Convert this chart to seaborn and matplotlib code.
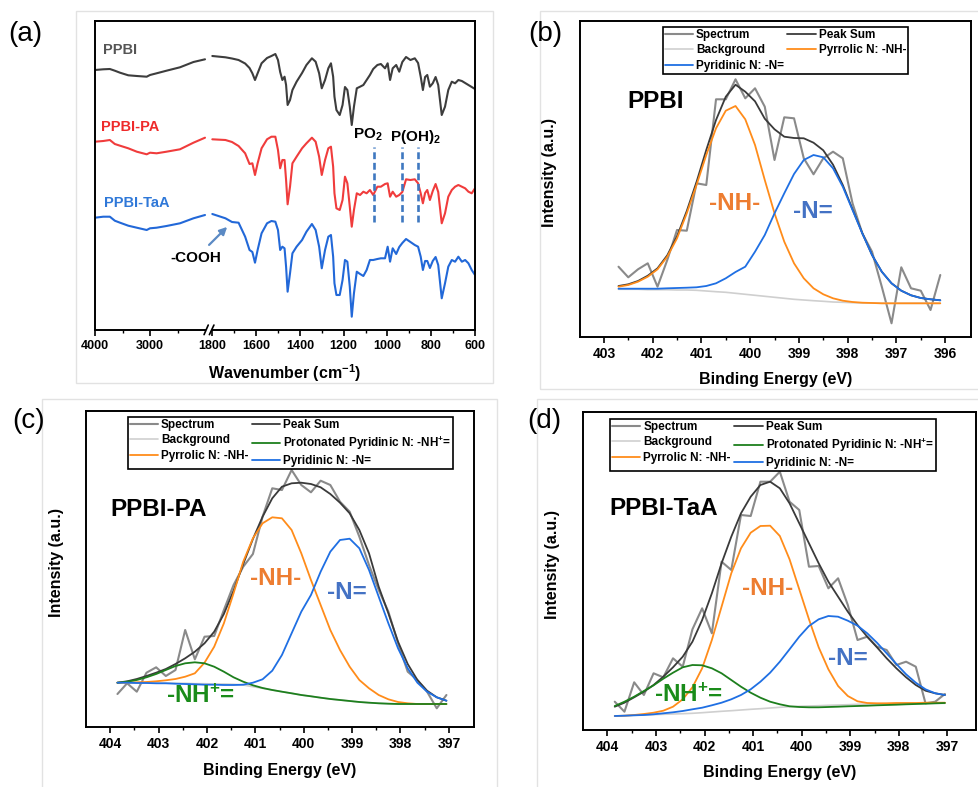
import numpy as np
import matplotlib
matplotlib.use("Agg")
import matplotlib.pyplot as plt
import seaborn as sns
from matplotlib.patches import Rectangle

sns.set_theme(style="white")
plt.rcParams["font.family"] = ["Liberation Sans", "DejaVu Sans"]
plt.rcParams.update({
    "mathtext.fontset": "custom",
    "mathtext.rm": "Liberation Sans:bold",
    "mathtext.bf": "Liberation Sans:bold",
    "mathtext.it": "Liberation Sans:bold:italic",
    "mathtext.sf": "Liberation Sans:bold",
    "mathtext.default": "regular",
    "axes.edgecolor": "black",
    "xtick.color": "black",
    "text.color": "black",
    "axes.labelcolor": "black",
})

# ---------------- (a) FTIR data ----------------
wn_left = [4000, 3850, 3730, 3640, 3545, 3395, 3240, 3060, 3000, 2880, 2700, 2455, 2210, 2000]
ppbi_left = [260.0, 260.7, 261.0, 259.3, 257.3, 254.7, 254.0, 253.3, 255.0, 256.7, 259.3, 262.7, 268.0, 270.7]
pa_left = [188.3, 189.0, 190.0, 186.0, 184.3, 181.7, 178.3, 175.7, 177.3, 176.7, 178.3, 180.7, 187.3, 192.3]
taa_left = [112.3, 113.3, 113.3, 109.3, 107.3, 104.3, 102.3, 100.0, 101.7, 102.3, 104.0, 106.7, 111.7, 115.0]

wn_right = [1800, 1740, 1710, 1680, 1650, 1630, 1617, 1605, 1593, 1575,
            1550, 1530, 1512, 1500, 1490, 1480, 1470, 1463, 1456, 1445,
            1434, 1415, 1390, 1370, 1345, 1328, 1312, 1300, 1285, 1270,
            1258, 1248, 1242, 1233, 1218, 1205, 1194, 1183, 1172, 1163,
            1153, 1140, 1125, 1110, 1095, 1080, 1065, 1046, 1030, 1011,
            999, 988, 976, 960, 946, 932, 915, 895, 875, 860,
            848, 838, 828, 818, 806, 793, 780, 768, 752, 737,
            722, 706, 691, 676, 660, 645, 630, 615, 600]
ppbi_right = [274.0, 272.7, 271.5, 270.0, 266.5, 262.0, 256.7, 250.0, 256.7, 266.7,
              272.0, 274.0, 276.0, 270.0, 258.0, 250.0, 253.3, 245.0, 225.0, 230.0,
              240.0, 248.3, 257.0, 265.0, 271.7, 268.3, 256.7, 241.7, 250.0, 261.7,
              266.7, 253.3, 233.3, 220.0, 215.0, 225.0, 243.0, 240.0, 223.3, 205.0,
              223.3, 241.7, 243.3, 245.0, 250.0, 255.0, 261.0, 265.0, 266.0, 261.7,
              266.7, 250.0, 261.7, 265.0, 258.3, 268.0, 273.0, 270.0, 271.7, 267.0,
              253.3, 240.0, 253.0, 255.0, 243.3, 246.7, 253.0, 245.0, 215.0, 223.3,
              240.0, 248.3, 246.7, 250.0, 249.0, 247.0, 245.0, 243.0, 241.0]
pa_right = [190.7, 190.0, 188.0, 184.0, 176.7, 166.0, 166.7, 155.0, 166.7, 181.7,
            190.7, 193.3, 193.3, 180.0, 161.7, 170.0, 170.0, 150.0, 125.7, 143.3,
            166.7, 173.3, 181.7, 186.7, 192.3, 188.3, 173.3, 155.0, 170.0, 181.7,
            183.3, 163.3, 136.7, 121.7, 120.0, 130.0, 153.3, 146.7, 123.3, 103.3,
            120.0, 136.7, 135.0, 138.3, 136.7, 140.0, 135.0, 143.3, 143.3, 146.0,
            146.7, 133.3, 138.3, 133.3, 135.0, 138.0, 150.7, 150.0, 150.7, 146.7,
            136.7, 126.7, 137.0, 140.0, 130.0, 139.0, 146.0, 138.0, 106.7, 116.7,
            133.3, 140.0, 143.3, 145.0, 143.3, 141.7, 138.3, 136.7, 141.7]
taa_right = [116.0, 111.7, 108.0, 107.3, 93.3, 80.0, 78.0, 67.3, 80.0, 96.7,
             106.7, 109.0, 108.3, 100.0, 80.0, 83.3, 81.7, 63.3, 38.3, 56.7,
             76.7, 83.3, 90.0, 98.3, 106.0, 100.0, 83.3, 61.7, 80.0, 93.3,
             95.0, 73.3, 46.7, 35.0, 35.0, 50.0, 70.0, 68.3, 43.3, 13.3,
             36.7, 58.3, 56.0, 54.0, 60.0, 70.0, 70.0, 71.0, 71.7, 71.7,
             83.3, 68.3, 81.7, 76.0, 83.0, 87.0, 91.0, 88.0, 85.0, 83.3,
             73.3, 60.0, 69.0, 69.0, 62.0, 69.0, 73.0, 65.0, 31.7, 46.7,
             63.3, 70.0, 68.3, 73.3, 68.3, 70.0, 66.7, 60.0, 55.0]
p_bands = [1061, 932, 862]
a_ticks = [4000, 3000, 1800, 1600, 1400, 1200, 1000, 800, 600]
a_minor = [3500, 2500, 1700, 1500, 1300, 1100, 900, 700]

# ---------------- XPS data ----------------
be_b = [402.7, 402.5, 402.3, 402.1, 401.9, 401.7, 401.5, 401.3, 401.1, 400.9,
        400.7, 400.5, 400.3, 400.1, 399.9, 399.7, 399.5, 399.3, 399.1, 398.9,
        398.7, 398.5, 398.3, 398.1, 397.9, 397.7, 397.5, 397.3, 397.1, 396.9,
        396.7, 396.5, 396.3, 396.1]
spec_b = [70.3, 59.7, 67.7, 73.7, 50.3, 77.0, 107.0, 106.3, 153.7, 152.0,
          237.7, 237.7, 257.7, 238.7, 248.7, 230.3, 177.0, 219.7, 218.7, 178.7,
          162.7, 178.7, 185.3, 178.7, 133.7, 103.7, 85.3, 50.3, 13.7, 69.7,
          48.7, 46.3, 27.0, 62.0]
bg_b = [47.7, 47.7, 47.7, 47.3, 47.3, 47.3, 47.0, 47.0, 46.7, 46.0,
        45.3, 44.7, 43.7, 42.7, 41.7, 40.7, 39.7, 38.7, 37.7, 37.0,
        36.3, 35.7, 35.0, 34.7, 34.3, 34.0, 34.0, 33.7, 33.7, 33.7,
        33.7, 33.7, 33.7, 33.7]
nh_b = [50.3, 52.0, 55.3, 60.3, 67.7, 80.3, 98.7, 123.7, 152.0, 182.0,
        208.7, 226.3, 231.0, 217.7, 192.0, 157.0, 123.7, 95.3, 73.7, 58.7,
        48.7, 42.7, 38.7, 36.3, 35.0, 34.3, 34.0, 33.7, 33.7, 33.7,
        33.7, 33.7, 33.7, 33.7]
n_b = [48.3, 48.3, 48.3, 48.3, 48.3, 48.7, 49.0, 49.3, 49.7, 51.0,
       53.7, 58.7, 65.0, 70.3, 85.3, 102.0, 123.7, 143.7, 163.0, 177.0,
       182.0, 179.7, 168.7, 150.3, 127.0, 103.7, 82.0, 65.3, 53.7, 46.3,
       41.7, 39.0, 37.7, 36.7]
sum_b = [51.0, 52.7, 56.0, 61.3, 68.7, 81.7, 100.7, 126.0, 155.0, 187.0,
         217.0, 240.3, 252.3, 245.3, 235.7, 218.3, 207.7, 200.3, 199.0, 198.7,
         194.3, 186.7, 172.3, 152.0, 127.7, 104.0, 82.0, 65.3, 53.7, 46.3,
         41.7, 39.0, 37.7, 36.7]

be_c = [403.85, 403.65, 403.45, 403.25, 403.05, 402.85, 402.65, 402.45, 402.25, 402.05,
        401.85, 401.65, 401.45, 401.25, 401.05, 400.85, 400.65, 400.45, 400.25, 400.05,
        399.85, 399.65, 399.45, 399.25, 399.05, 398.85, 398.65, 398.45, 398.25, 398.05,
        397.85, 397.65, 397.45, 397.25, 397.05]
spec_c = [33.0, 43.7, 35.3, 54.3, 59.7, 51.0, 57.0, 97.0, 67.7, 90.3,
          91.0, 117.0, 142.0, 160.3, 173.0, 210.3, 238.7, 237.0, 257.0, 242.0,
          234.7, 246.3, 242.0, 225.3, 215.3, 190.3, 162.0, 137.0, 115.3, 83.7,
          55.3, 47.0, 35.3, 18.7, 32.0]
bg_c = [44.3, 44.3, 44.3, 44.0, 44.0, 44.0, 43.7, 43.7, 43.3, 43.3,
        43.0, 43.0, 42.7, 42.0, 40.3, 38.7, 37.0, 35.3, 33.7, 32.0,
        30.7, 29.3, 28.0, 27.0, 26.0, 25.0, 24.3, 23.7, 23.3, 23.0,
        23.0, 23.0, 23.0, 23.0, 23.0]
nhp_c = [44.3, 45.3, 47.0, 49.7, 53.0, 57.0, 61.0, 63.7, 64.7, 63.7,
         60.3, 55.3, 49.7, 45.3, 41.7, 39.0, 37.0, 35.3, 33.7, 32.0,
         30.7, 29.3, 28.0, 27.0, 26.0, 25.0, 24.3, 23.7, 23.3, 23.0,
         23.0, 23.0, 23.0, 23.0, 23.0]
nh_c = [44.3, 44.3, 44.7, 45.0, 45.7, 46.7, 48.0, 50.3, 53.7, 64.3,
        80.3, 103.7, 133.7, 165.3, 188.7, 203.7, 209.7, 208.7, 197.0, 173.7,
        147.0, 122.0, 97.0, 77.0, 60.3, 47.0, 38.7, 32.0, 27.7, 25.0,
        23.7, 23.0, 23.0, 23.0, 23.0]
n_c = [44.3, 44.3, 44.0, 44.0, 43.7, 43.7, 43.3, 43.0, 42.7, 42.3,
       42.3, 42.0, 42.0, 42.3, 44.3, 47.7, 56.3, 72.0, 93.7, 115.3,
       132.0, 155.3, 175.3, 187.0, 188.3, 178.7, 157.0, 130.3, 103.7, 78.7,
       58.7, 44.3, 35.3, 29.7, 26.3]
sum_c = [44.3, 45.7, 48.0, 51.0, 54.3, 58.0, 63.0, 68.7, 75.3, 83.7,
         95.3, 113.0, 136.3, 163.0, 188.0, 210.3, 228.7, 240.3, 243.7, 244.3,
         243.0, 239.7, 233.0, 224.3, 213.7, 197.0, 173.7, 140.3, 113.7, 85.3,
         63.0, 47.0, 36.3, 29.7, 26.3]

be_d = [403.85, 403.65, 403.45, 403.25, 403.05, 402.85, 402.65, 402.45, 402.25, 402.05,
        401.85, 401.65, 401.45, 401.25, 401.05, 400.85, 400.65, 400.45, 400.25, 400.05,
        399.85, 399.65, 399.45, 399.25, 399.05, 398.85, 398.65, 398.45, 398.25, 398.05,
        397.85, 397.65, 397.45, 397.25, 397.05]
spec_d = [28.3, 18.3, 47.7, 35.0, 56.7, 52.7, 71.7, 63.3, 100.7, 121.7,
          96.7, 168.3, 160.0, 215.0, 214.0, 248.3, 248.3, 258.3, 228.3, 220.0,
          163.3, 164.0, 141.7, 151.7, 125.0, 90.0, 93.3, 83.3, 80.0, 65.0,
          68.3, 63.3, 26.7, 28.3, 36.0]
bg_d = [14.0, 14.3, 14.7, 15.0, 15.3, 15.7, 16.0, 16.3, 16.7, 17.3,
        18.0, 18.7, 19.3, 20.0, 20.7, 21.3, 22.0, 22.7, 23.3, 23.7,
        24.0, 24.3, 24.7, 25.0, 25.3, 25.7, 26.0, 26.0, 26.3, 26.3,
        26.7, 26.7, 26.7, 26.7, 26.7]
nhp_d = [24.0, 28.3, 33.3, 39.0, 44.7, 51.3, 57.3, 62.7, 65.0, 64.7,
         61.7, 56.7, 50.0, 43.3, 37.3, 32.3, 28.3, 25.7, 23.7, 23.0,
         22.7, 22.7, 23.0, 23.3, 23.7, 24.0, 24.3, 24.7, 25.0, 25.3,
         25.7, 26.0, 26.3, 26.7, 27.0]
nh_d = [14.0, 14.3, 15.0, 16.0, 17.3, 19.3, 23.3, 30.7, 42.7, 61.7,
        90.0, 123.3, 156.7, 181.7, 197.3, 204.0, 204.3, 194.0, 170.7, 140.7,
        110.7, 82.7, 60.7, 44.0, 34.0, 28.7, 27.0, 26.7, 26.7, 27.0,
        27.0, 27.0, 27.3, 27.3, 27.3]
n_d = [14.0, 14.3, 14.7, 15.0, 15.7, 16.7, 17.7, 19.0, 20.7, 22.3,
       24.7, 27.3, 30.7, 35.0, 40.7, 48.3, 57.3, 68.3, 80.7, 93.3,
       104.0, 110.7, 114.0, 113.3, 109.3, 104.3, 96.7, 87.3, 76.7, 66.0,
       55.7, 47.3, 40.7, 36.7, 35.0]
sum_d = [23.3, 27.3, 32.7, 38.3, 45.0, 53.3, 62.7, 73.3, 88.3, 110.0,
         136.7, 166.7, 193.3, 216.7, 233.3, 245.0, 248.3, 241.7, 226.7, 206.7,
         186.7, 166.7, 148.3, 133.3, 118.3, 105.0, 93.3, 82.7, 71.7, 61.7,
         52.7, 45.0, 39.3, 36.7, 35.0]

C_SPEC, C_SUM, C_BG = "#8a8a8a", "#3a3a3a", "#cfcfcf"
C_NH, C_N, C_NHP = "#ff8c1a", "#1f6fe3", "#1d7f1d"
T_NH, T_N, T_NHP = "#ed7d31", "#4472c4", "#1a8c1a"

W, H = 979, 787
fig = plt.figure(figsize=(W / 100, H / 100), dpi=100)


def box(l, r, t, b):
    return [l / W, 1 - b / H, (r - l) / W, (b - t) / H]


# panel frames
for (l, r, t, b) in [(76, 493, 11, 383), (540, 990, 11, 389), (42, 497, 399, 795), (537, 990, 399, 795)]:
    fig.add_artist(Rectangle((l / W, 1 - b / H), (r - l) / W, (b - t) / H, transform=fig.transFigure,
                             fill=False, edgecolor="#e2e2e2", lw=1.0))


def line(ax, x, y, color, lw=1.3):
    sns.lineplot(x=x, y=y, ax=ax, color=color, linewidth=lw, estimator=None, sort=False, legend=False)
    return ax.lines[-1]


def frame(ax):
    for s in ax.spines.values():
        s.set_visible(True)
        s.set_color("black")
        s.set_linewidth(1.4)
    ax.set_yticks([])
    ax.set_ylabel("")


# ---------------- panel (a) ----------------
ax = fig.add_axes(box(95, 475, 21, 330))
for xs, ys, col in [(wn_left, ppbi_left, "#3d3d3d"), (wn_right, ppbi_right, "#3d3d3d"),
                    (wn_left, pa_left, "#f03c3c"), (wn_right, pa_right, "#f03c3c"),
                    (wn_left, taa_left, "#2268d8"), (wn_right, taa_right, "#2268d8")]:
    line(ax, xs, ys, col, lw=1.5)


def _fwd(w):
    w = np.asarray(w, dtype=float)
    return np.where(w >= 2000, -(4000 - w) * 0.055,
                    np.where(w >= 1800, -(110 + (2000 - w) * 0.0365),
                             -(117.3 + (1800 - w) * 0.2189)))


def _inv(u):
    d = -np.asarray(u, dtype=float)
    return np.where(d <= 110, 4000 - d / 0.055,
                    np.where(d <= 117.3, 2000 - (d - 110) / 0.0365,
                             1800 - (d - 117.3) / 0.2189))


ax.set_xscale("function", functions=(_fwd, _inv))
ax.set_xlim(4000, 600)
ax.set_ylim(0, 309)
frame(ax)
ax.set_xticks(a_ticks, labels=[str(t) for t in a_ticks], fontsize=9, fontweight="bold")
ax.set_xticks(a_minor, minor=True)
ax.tick_params(axis="x", which="major", direction="out", length=4, width=1.2, pad=3, bottom=True)
ax.tick_params(axis="x", which="minor", direction="out", length=2.5, width=1.0, bottom=True)
ax.vlines(p_bands, 108.3, 183.3, colors="#3f78c0", linestyles=(0, (2.6, 1.4)), linewidth=1.9)
ax.set_xlabel("Wavenumber (cm$^{-1}$)", fontsize=11.5, fontweight="bold")
ax.xaxis.set_label_coords(0.5, -0.139)
ax.xaxis.label.set_verticalalignment("center")
# axis break marks
ax.add_patch(Rectangle((0.292, -0.012), 0.014, 0.024, transform=ax.transAxes, facecolor="white",
                       edgecolor="none", clip_on=False, zorder=5))
ax.plot([0.287, 0.298], [-0.015, 0.016], transform=ax.transAxes, color="black", lw=1.2, clip_on=False, zorder=6)
ax.plot([0.301, 0.313], [-0.015, 0.016], transform=ax.transAxes, color="black", lw=1.2, clip_on=False, zorder=6)
ax.text(0.021, 0.906, "PPBI", transform=ax.transAxes, color="#555555", fontsize=10.5, fontweight="bold", va="center")
ax.text(0.016, 0.657, "PPBI-PA", transform=ax.transAxes, color="#ee2a2a", fontsize=10.5, fontweight="bold", va="center")
ax.text(0.024, 0.411, "PPBI-TaA", transform=ax.transAxes, color="#2f78d8", fontsize=10.5, fontweight="bold", va="center")
ax.text(0.266, 0.233, "-COOH", transform=ax.transAxes, fontsize=11, fontweight="bold", ha="center", va="center")
ax.annotate("", xy=(0.353, 0.340), xytext=(0.295, 0.269), xycoords="axes fraction",
            arrowprops=dict(arrowstyle="-|>", color="#5b8ac4", lw=1.6, mutation_scale=11))
ax.text(0.718, 0.631, "PO$_2$", transform=ax.transAxes, fontsize=11, fontweight="bold", ha="center", va="center")
ax.text(0.842, 0.625, "P(OH)$_2$", transform=ax.transAxes, fontsize=11, fontweight="bold", ha="center", va="center")
fig.text(8 / W, 1 - 34 / H, "(a)", fontsize=20, ha="left", va="center")


# ---------------- XPS panels ----------------
def xps(rect, xlim, ylim, majors, minors, be, spec, bg, summ, nh, n, nhp, leg_anchor, title, title_xy,
        nh_xy, n_xy, nhp_xy, xl_y, yl_x, label, label_xy):
    ax = fig.add_axes(box(*rect))
    l_spec = line(ax, be, spec, C_SPEC, lw=1.5)
    l_bg = line(ax, be, bg, C_BG, lw=1.2)
    l_sum = line(ax, be, summ, C_SUM, lw=1.3)
    l_nh = line(ax, be, nh, C_NH, lw=1.3)
    l_nhp = line(ax, be, nhp, C_NHP, lw=1.3) if nhp is not None else None
    l_n = line(ax, be, n, C_N, lw=1.3)
    ax.set_xlim(*xlim)
    ax.set_ylim(*ylim)
    frame(ax)
    ax.set_xticks(majors, labels=[str(m) for m in majors], fontsize=10, fontweight="bold")
    ax.set_xticks(minors, minor=True)
    ax.tick_params(axis="x", which="major", direction="out", length=4, width=1.2, pad=3, bottom=True)
    ax.tick_params(axis="x", which="minor", direction="out", length=2.5, width=1.0, bottom=True)
    ax.set_xlabel("Binding Energy (eV)", fontsize=11.5, fontweight="bold")
    ax.xaxis.set_label_coords(0.5, xl_y)
    ax.xaxis.label.set_verticalalignment("center")
    ax.set_ylabel("Intensity (a.u.)", fontsize=11.5, fontweight="bold")
    ax.yaxis.set_label_coords(yl_x, 0.52)
    ax.yaxis.label.set_verticalalignment("center")
    if nhp is None:
        handles = [l_spec, l_bg, l_n, l_sum, l_nh]
        labels = ["Spectrum", "Background", "Pyridinic N: -N=", "Peak Sum", "Pyrrolic N: -NH-"]
    else:
        handles = [l_spec, l_bg, l_nh, l_sum, l_nhp, l_n]
        labels = ["Spectrum", "Background", "Pyrrolic N: -NH-", "Peak Sum",
                  "Protonated Pyridinic N: -NH$^{+}$=", "Pyridinic N: -N="]
    leg = ax.legend(handles, labels, ncol=2, loc="upper left", bbox_to_anchor=leg_anchor, borderaxespad=0,
                    frameon=True, fancybox=False, framealpha=1, edgecolor="black",
                    prop={"weight": "bold", "size": 8.5}, handlelength=2.4, handletextpad=0.25,
                    columnspacing=0.3, labelspacing=0.3, borderpad=0.15)
    leg.get_frame().set_linewidth(1.2)
    ax.text(*title_xy, title, transform=ax.transAxes, fontsize=17.5, fontweight="bold", va="center")
    ax.text(*nh_xy, "-NH-", transform=ax.transAxes, fontsize=17.5, fontweight="bold", color=T_NH,
            ha="center", va="center")
    ax.text(*n_xy, "-N=", transform=ax.transAxes, fontsize=17.5, fontweight="bold", color=T_N,
            ha="center", va="center")
    if nhp is not None:
        ax.text(*nhp_xy, "-NH$^{+}$=", transform=ax.transAxes, fontsize=17.5, fontweight="bold", color=T_NHP,
                ha="center", va="center")
    fig.text(label_xy[0] / W, 1 - label_xy[1] / H, label, fontsize=20, ha="left", va="center")
    return ax


xps((580, 971, 21, 337), (403.49, 395.47), (0, 316),
    [403, 402, 401, 400, 399, 398, 397, 396], [402.5, 401.5, 400.5, 399.5, 398.5, 397.5, 396.5],
    be_b, spec_b, bg_b, sum_b, nh_b, n_b, None, (0.212, 0.981), "PPBI", (0.120, 0.744),
    (0.396, 0.424), (0.596, 0.396), None, -0.136, -0.077, "(b)", (528, 34))

xps((86, 474, 410.7, 727), (404.5, 396.48), (0, 316.3),
    [404, 403, 402, 401, 400, 399, 398, 397], [403.5, 402.5, 401.5, 400.5, 399.5, 398.5, 397.5],
    be_c, spec_c, bg_c, sum_c, nh_c, n_c, nhp_c, (0.108, 0.980), "PPBI-PA", (0.062, 0.689),
    (0.490, 0.468), (0.673, 0.424), (0.294, 0.098), -0.139, -0.075, "(c)", (12, 421))

xps((582.7, 976, 411.7, 730), (404.51, 396.41), (0, 318.3),
    [404, 403, 402, 401, 400, 399, 398, 397], [403.5, 402.5, 401.5, 400.5, 399.5, 398.5, 397.5],
    be_d, spec_d, bg_d, sum_d, nh_d, n_d, nhp_d, (0.070, 0.977), "PPBI-TaA", (0.069, 0.697),
    (0.471, 0.446), (0.675, 0.226), (0.268, 0.110), -0.132, -0.078, "(d)", (527, 421))

fig.savefig("out.png", dpi=100)
